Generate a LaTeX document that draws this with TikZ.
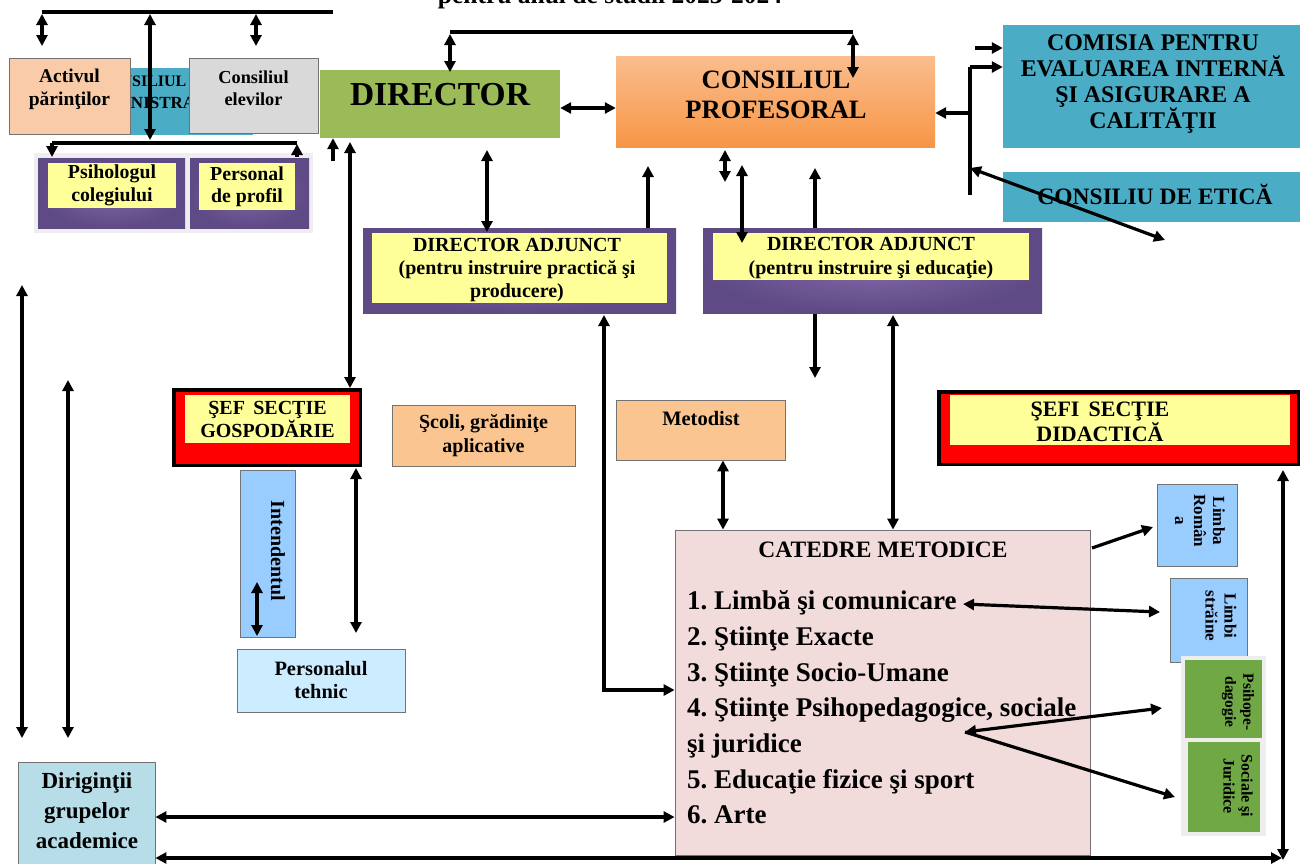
\documentclass[tikz,border=0pt]{standalone}
\usepackage{fontspec}
\setmainfont{Liberation Serif}
\usetikzlibrary{arrows.meta}
\definecolor{cblue}{HTML}{4BACC6}
\definecolor{cpeach}{HTML}{F9CBA8}
\definecolor{cpeachb}{HTML}{FAC590}
\definecolor{cgray}{HTML}{D9D9D9}
\definecolor{cgreen}{HTML}{9BBB59}
\definecolor{cgreen2}{HTML}{6FA845}
\definecolor{corangeT}{HTML}{FABD8E}
\definecolor{corangeB}{HTML}{F79646}
\definecolor{cpurpI}{HTML}{8065A5}
\definecolor{cpurpO}{HTML}{5E4A85}
\definecolor{cyellow}{HTML}{FFFF99}
\definecolor{clblue}{HTML}{99CCFF}
\definecolor{clblue2}{HTML}{CCECFF}
\definecolor{cdirig}{HTML}{B7DEE8}
\definecolor{cpink}{HTML}{F2DCDB}
\definecolor{cshadow}{HTML}{EEEEEE}
\newcommand{\fsz}[2]{\fontsize{#1}{#2}\selectfont\bfseries}
\frenchspacing
\begin{document}
\frenchspacing
\begin{tikzpicture}[x=1pt,y=-1pt,
  box/.style={draw=black!55, line width=0.8pt, inner sep=0pt},
  plain/.style={draw=none, inner sep=0pt},
  purp/.style={draw=none, inner sep=0pt, inner color=cpurpI, outer color=cpurpO},
  txt/.style={inner sep=0pt, align=center},
  arr/.style={line width=3.2pt, -{Triangle[length=11pt,width=11pt]}},
  darr/.style={line width=3.2pt, {Triangle[length=11pt,width=11pt]}-{Triangle[length=11pt,width=11pt]}},
  bus/.style={line width=4pt}]
\useasboundingbox (0,0) rectangle (1304,863);

% title (cut at top)
\node[anchor=base, inner sep=0pt, font=\fsz{25.5}{30}] (title) at (610,3.5) {pentru anul de studii 2023-2024};

% ---------- top left group ----------
\node[plain, fill=cblue, minimum width=196pt, minimum height=67pt] (admin) at (155,101.5) {};
\node[txt, font=\fsz{16}{20}] (adminT1) at (141.5,81) {CONSILIUL};
\node[txt, font=\fsz{17}{20}] (adminT2) at (154,103) {ADMINISTRATIV};
\node[box, fill=cpeach, minimum width=121pt, minimum height=76pt] (activ) at (69.5,96) {};
\node[txt, font=\fsz{19.5}{23}] (activT) at (69.5,89) {Activul\\părinţilor};
\node[box, fill=cgray, minimum width=129pt, minimum height=75pt] (elevi) at (253.5,95.5) {};
\node[txt, font=\fsz{18.3}{22}] (eleviT) at (253.5,88) {Consiliul\\elevilor};

\node[plain, fill=cshadow, minimum width=279pt, minimum height=80pt] (leftshadow) at (173.5,193) {};
\node[purp, minimum width=147pt, minimum height=70pt] (psih) at (111.5,193) {};
\node[plain, fill=cyellow, minimum width=128pt, minimum height=45pt, font=\fsz{19.8}{22.5}, align=center] (psihI) at (112,185.5) {Psihologul\\colegiului};
\node[purp, minimum width=119pt, minimum height=70pt] (pers) at (249.5,193) {};
\node[plain, fill=cyellow, minimum width=96pt, minimum height=47pt, font=\fsz{19.8}{22.5}, align=center] (persI) at (247,186.5) {Personal\\de profil};

% ---------- director & consiliul profesoral ----------
\node[plain, fill=cgreen, minimum width=240pt, minimum height=68pt] (director) at (440,104) {};
\node[txt, font=\fsz{33.5}{36}] (directorT) at (440,95) {DIRECTOR};
\node[plain, top color=corangeT, bottom color=corangeB, minimum width=319pt, minimum height=91pt] (consprof) at (775.5,101.5) {};
\node[txt, font=\fsz{26.5}{30}] (consprofT) at (776,95) {CONSILIUL\\PROFESORAL};

% ---------- right top ----------
\node[plain, fill=cblue, minimum width=297pt, minimum height=123pt] (comisia) at (1151.5,86.5) {};
\node[txt, font=\fsz{23.9}{26}] (comisiaT) at (1153,84) {COMISIA PENTRU\\EVALUAREA INTERNĂ\\ŞI ASIGURARE A\\CALITĂŢII};
\node[plain, fill=cblue, minimum width=297pt, minimum height=50pt] (etica) at (1151.5,197) {};
\node[txt, font=\fsz{23.5}{26}] (eticaT) at (1155,194) {CONSILIU DE ETICĂ};

% ---------- directori adjuncti ----------
\node[purp, minimum width=313pt, minimum height=85pt] (da1) at (519.5,270.5) {};
\node[plain, fill=cyellow, minimum width=295pt, minimum height=70pt] (da1I) at (519.5,268) {};
\node[txt, font=\fsz{20}{23.5}] (da1T) at (517,270) {DIRECTOR ADJUNCT\\(pentru instruire practică şi\\producere)};
\node[purp, minimum width=339pt, minimum height=85pt] (da2) at (872.5,270.5) {};
\node[plain, fill=cyellow, minimum width=316pt, minimum height=47pt] (da2I) at (871,256.5) {};
\node[txt, font=\fsz{20}{23.5}] (da2T) at (871,258) {DIRECTOR ADJUNCT\\(pentru instruire şi educaţie)};

% ---------- middle ----------
\node[draw=black, line width=3.5pt, fill=red, inner sep=0pt, minimum width=186.5pt, minimum height=75.5pt] (gosp) at (267,427.5) {};
\node[plain, fill=cyellow, minimum width=165pt, minimum height=48pt, font=\fsz{20}{23}, align=center] (gospI) at (267.5,419) {ŞEF\, SECŢIE\\GOSPODĂRIE};
\node[box, fill=cpeachb, minimum width=183pt, minimum height=61pt, font=\fsz{20}{24}, align=center] (scoli) at (483.5,435.5) {Şcoli, grădiniţe\\aplicative};
\node[box, fill=clblue, minimum width=55pt, minimum height=167pt] (intend) at (267.5,553.5) {};
\node[txt, rotate=-90, font=\fsz{20}{24}] (intendT) at (278,551) {Intendentul};
\node[box, fill=clblue2, minimum width=168pt, minimum height=63pt, font=\fsz{20.4}{23}, align=center] (tehnic) at (321,680.5) {Personalul\\tehnic};
\node[box, fill=cpeachb, minimum width=169pt, minimum height=60pt] (metodist) at (700.5,430) {};
\node[txt, font=\fsz{20.5}{23}] (metodistT) at (701,418) {Metodist};

\node[draw=black, line width=3.5pt, fill=red, inner sep=0pt, minimum width=359.5pt, minimum height=72.5pt] (sefi) at (1118.5,428) {};
\node[plain, fill=cyellow, minimum width=340pt, minimum height=50pt] (sefiI) at (1120,420) {};
\node[txt, font=\fsz{22}{25}] (sefiT) at (1100,422) {ŞEFI\, SECŢIE\\DIDACTICĂ};

% ---------- catedre ----------
\node[box, fill=cpink, minimum width=415pt, minimum height=325pt] (catedre) at (882.5,692.5) {};
\node[txt, font=\fsz{23.5}{26}] (catedreT) at (883,550) {CATEDRE METODICE};
\node[anchor=north west, inner sep=0pt, align=left, font=\fsz{27}{35.7}] (catlist) at (687,590.5) {1. Limbă şi comunicare\\2. Ştiinţe Exacte\\3. Ştiinţe Socio-Umane\\4. Ştiinţe Psihopedagogice, sociale\\şi juridice\\5. Educaţie fizice şi sport\\6. Arte};

% ---------- right column ----------
\node[box, fill=clblue, minimum width=80pt, minimum height=82pt] (limbaro) at (1197,525) {};
\node[txt, rotate=-90, font=\fsz{17}{19}] (limbaroT) at (1200,521) {Limba\\Român\\a};
\node[box, fill=clblue, minimum width=77pt, minimum height=84pt] (limbistr) at (1208.5,620) {};
\node[txt, rotate=-90, font=\fsz{17}{19}] (limbistrT) at (1221,616) {Limbi\\străine};
\node[plain, fill=cshadow, minimum width=85pt, minimum height=180pt] (greenshadow) at (1223.5,746) {};
\node[plain, fill=cgreen2, minimum width=77pt, minimum height=78pt] (psihoped) at (1223.5,699) {};
\node[txt, rotate=-90, font=\fsz{15.5}{18}] (psihopedT) at (1238,702) {Psihope-\\dagogie};
\node[plain, fill=cgreen2, minimum width=72pt, minimum height=90pt] (sociale) at (1224,787) {};
\node[txt, rotate=-90, font=\fsz{16}{18}] (socialeT) at (1238,786) {Sociale şi\\Juridice};

% ---------- dirigintii ----------
\node[box, fill=cdirig, minimum width=137pt, minimum height=107pt] (dirig) at (86.5,816) {};
\node[txt, font=\fsz{23}{30}] (dirigT) at (87,811) {Diriginţii\\grupelor\\academice};

% ================= connectors =================
% top bus
\coordinate (busL) at (42,12);
\coordinate (busR) at (333,12);
\draw[bus] (busL) -- (busR);
\draw[darr] (42,14) -- (42,46);
\draw[darr] (150,14) -- (150,140);
\draw[darr] (256,14) -- (256,46);
% second bus
\draw[bus] (52,143) -- (297,143);
\draw[arr] (52,143) -- (52,157);
\draw[arr] (297,157) -- (297,144);
\draw[arr] (333,161) -- (director.south -| 333,0);

% director - consiliul profesoral
\draw[bus] (450,32) -- (853,32);
\draw[darr] (450,34) -- (450,72);
\draw[darr] (853,34) -- (853,78);
\draw[darr] (director.east |- 0,108) -- (consprof.west |- 0,108);

% right side
\draw[bus] (970,67) -- (970,195);
\draw[arr] (970,67) -- (comisia.west |- 0,67);
\draw[arr] (975,48) -- (comisia.west |- 0,48);
\draw[arr] (970,113) -- (consprof.east |- 0,113);
\draw[darr] (970,168) -- (1165,240);

% director/consiliu to adjuncti
\draw[darr] (487,150) -- (487,232);
\draw[arr] (648,228) -- (648,166);
\draw[darr] (725,150) -- (725,182);
\draw[darr] (742,165) -- (742,243);
\draw[arr] (815,228) -- (815,168);

% director to gospodarie
\draw[darr] (350,142) -- (gosp.north -| 350,0);
\draw[darr] (257,582) -- (257,636);
\draw[darr] (356,468) -- (356,633);

% adjuncti down
\draw[arr] (815,314) -- (815,378);
\draw[darr] (893,315) -- (catedre.north -| 893,0);
\draw[darr] (metodist.south -| 723,0) -- (catedre.north -| 723,0);
\draw[darr] (604,315) -- (604,690) -- (catedre.west |- 0,690);

% left verticals
\draw[darr] (22,285) -- (22,738);
\draw[darr] (68,380) -- (68,738);

% dirigintii
\draw[darr] (dirig.east |- 0,817) -- (catedre.west |- 0,817);
\draw[darr] (dirig.east |- 0,858) -- (1282,858);
\draw[darr] (1283,470) -- (1283,860);

% catedre to right boxes
\draw[arr] (1092,548) -- (1153,527);
\draw[darr] (963,604) -- (1160,612);
\draw[darr] (1162,708) -- (965,732);
\draw[arr] (965,732) -- (1175,797);
\end{tikzpicture}
\end{document}
